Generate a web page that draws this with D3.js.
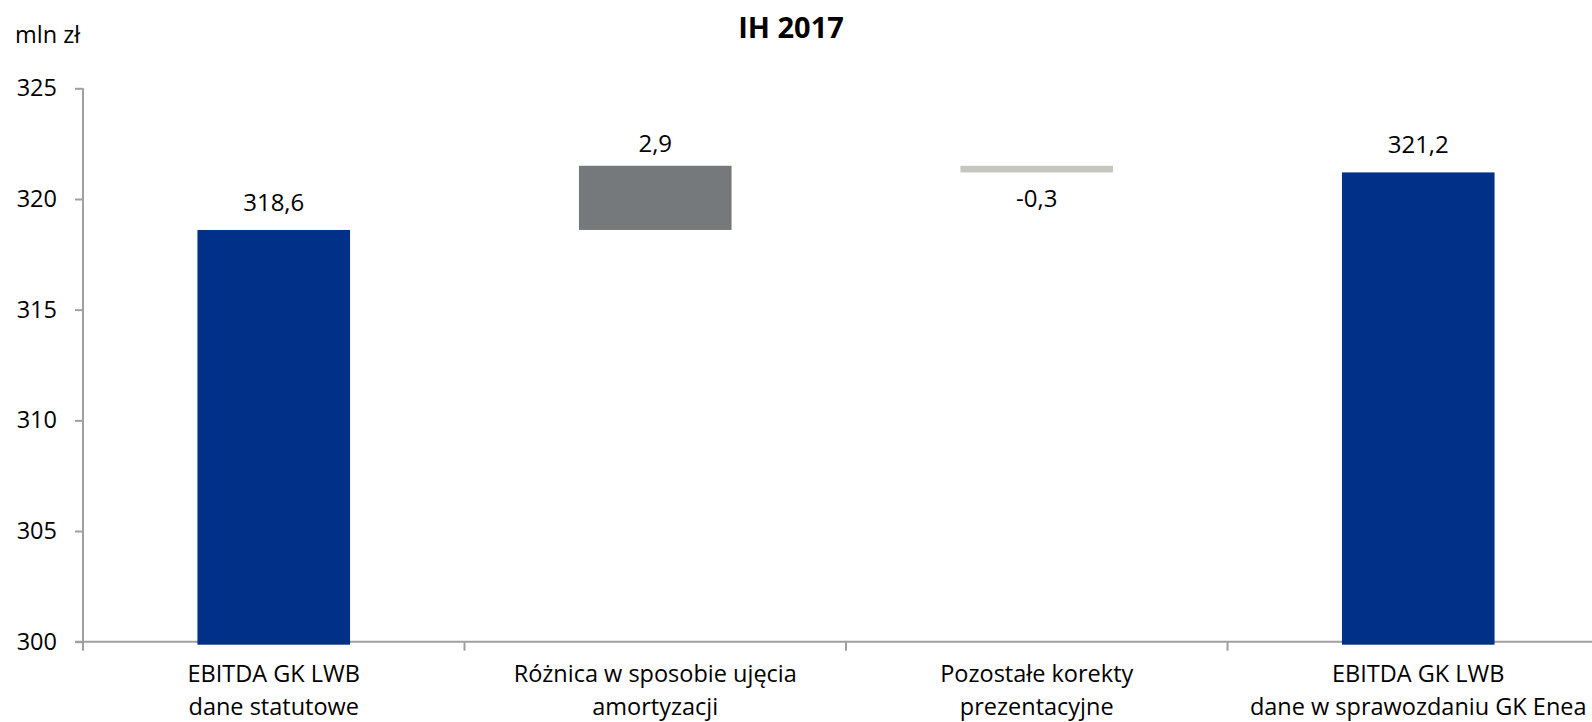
<!DOCTYPE html>
<html>
<head>
<meta charset="utf-8">
<script src="https://cdn.jsdelivr.net/npm/d3@7"></script>
<style>
  body { margin: 0; background: #fff; }
  svg { display: block; font-family: "Open Sans", "Noto Sans", sans-serif; font-weight: 500; }
  .axis path, .axis line { stroke: #a0a0a0; stroke-width: 2; }
</style>
</head>
<body>
<svg id="chart" width="1592" height="722"></svg>
<script>
// chart data
const categories = [
  ['EBITDA GK LWB', 'dane statutowe'],
  ['Różnica w sposobie ujęcia', 'amortyzacji'],
  ['Pozostałe korekty', 'prezentacyjne'],
  ['EBITDA GK LWB', 'dane w sprawozdaniu GK Enea']
];
const values = [318.6, 2.9, -0.3, 321.2];
const kinds = ['total', 'delta', 'delta', 'total'];
const labels = ['318,6', '2,9', '-0,3', '321,2'];
const yTicks = [300, 305, 310, 315, 320, 325];

const colors = { total: '#003087', up: '#76797c', down: '#c6c6c0' };

// running totals for the waterfall
let running = 0;
const bars = values.map((v, i) => {
  let lo, hi;
  if (kinds[i] === 'total') {
    lo = 300; hi = v; running = v;
  } else {
    lo = Math.min(running, running + v);
    hi = Math.max(running, running + v);
    running += v;
  }
  return { i, v, lo, hi, kind: kinds[i], label: labels[i] };
});

const svg = d3.select('#chart');

const plotLeft = 83, plotTop = 88.3, plotBottom = 641.7;
const step = 381.5;

const x = d3.scaleBand()
  .domain(d3.range(categories.length))
  .range([plotLeft, plotLeft + step * categories.length])
  .paddingInner(0.6)
  .paddingOuter(0.3);

const y = d3.scaleLinear().domain([300, 325]).range([plotBottom, plotTop]);

// y axis
const yAxis = svg.append('g')
  .attr('class', 'axis')
  .attr('transform', `translate(${plotLeft},0)`)
  .call(d3.axisLeft(y).tickValues(yTicks).tickSize(8).tickSizeOuter(0).tickPadding(18));
yAxis.select('.domain').attr('d', `M0,${plotTop}V${plotBottom + 9}`);
yAxis.selectAll('text')
  .attr('fill', '#000')
  .style('font-size', '23.5px')
  .style('font-family', '"Open Sans", sans-serif');

// x axis: ticks between categories
const xAxis = svg.append('g')
  .attr('class', 'axis')
  .attr('transform', `translate(0,${plotBottom})`);
xAxis.append('line')
  .attr('x1', plotLeft - 8).attr('x2', 1592)
  .attr('y1', 0).attr('y2', 0);
xAxis.selectAll('line.tick')
  .data(d3.range(1, categories.length + 1))
  .join('line')
  .attr('class', 'tick')
  .attr('x1', d => plotLeft + d * step).attr('x2', d => plotLeft + d * step)
  .attr('y1', 0).attr('y2', 9);

// bars
svg.append('g')
  .selectAll('rect')
  .data(bars)
  .join('rect')
  .attr('x', d => x(d.i))
  .attr('width', x.bandwidth())
  .attr('y', d => y(d.hi))
  .attr('height', d => y(d.lo) - y(d.hi) + (d.kind === 'total' ? 3 : 0))
  .attr('fill', d => d.kind === 'total' ? colors.total : (d.v >= 0 ? colors.up : colors.down));

// value labels
svg.append('g')
  .selectAll('text')
  .data(bars)
  .join('text')
  .attr('x', d => x(d.i) + x.bandwidth() / 2)
  .attr('y', d => {
    if (d.kind === 'total') return y(d.hi) - 19;
    return d.v >= 0 ? y(d.hi) - 14 : y(d.lo) + 35;
  })
  .attr('text-anchor', 'middle')
  .style('font-size', '24px')
  .text(d => d.label);

// category labels
const cat = svg.append('g')
  .selectAll('text')
  .data(categories)
  .join('text')
  .attr('x', (d, i) => x(i) + x.bandwidth() / 2)
  .attr('y', 682)
  .attr('text-anchor', 'middle')
  .style('font-size', '23.5px');
cat.selectAll('tspan')
  .data(d => d)
  .join('tspan')
  .attr('x', function () { return this.parentNode.getAttribute('x'); })
  .attr('dy', (d, j) => j === 0 ? 0 : 33)
  .text(d => d);

// unit and title
svg.append('text')
  .attr('x', 15).attr('y', 43)
  .style('font-size', '23.5px')
  .text('mln zł');

svg.append('text')
  .attr('x', 791).attr('y', 38)
  .attr('text-anchor', 'middle')
  .style('font-size', '29px')
  .style('font-weight', 'bold')
  .text('IH 2017');
</script>
</body>
</html>
